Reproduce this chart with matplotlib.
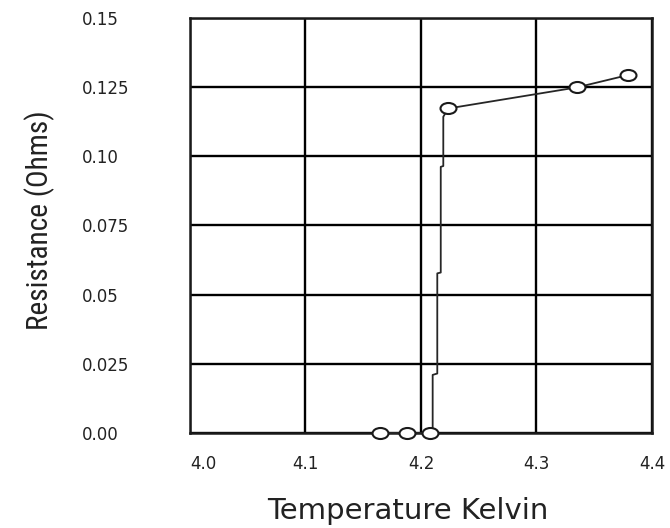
import matplotlib
matplotlib.use("Agg")
import matplotlib.pyplot as plt
from matplotlib.path import Path
from matplotlib.transforms import Affine2D
from matplotlib import font_manager

# ---- data ----
meas_temp = [4.1645, 4.1876, 4.2074, 4.2236, 4.3348, 4.3795]
meas_res = [0.0, 0.0, 0.0, 0.1173, 0.1249, 0.1294]

trans_temp = [4.1645, 4.1876, 4.2074, 4.2101, 4.2101, 4.2141, 4.2141, 4.2171,
              4.2171, 4.2193, 4.2193, 4.2236, 4.3348, 4.3795]
trans_res = [0.0, 0.0, 0.0, 0.0, 0.021, 0.0215, 0.0577, 0.058, 0.0962, 0.0965,
             0.1143, 0.1173, 0.1249, 0.1294]

x_ticks = [4.0, 4.1, 4.2, 4.3, 4.4]
x_tick_labels = ["4.0", "4.1", "4.2", "4.3", "4.4"]
y_ticks = [0.0, 0.025, 0.05, 0.075, 0.10, 0.125, 0.15]
y_tick_labels = ["0.00", "0.025", "0.05", "0.075", "0.10", "0.125", "0.15"]

# ---- figure ----
fig = plt.figure(figsize=(6.7, 5.28), dpi=100)
ax = fig.add_axes([190/670, 1 - 433/528, 462/670, 415/528])

ax.set_xlim(4.0, 4.4)
ax.set_ylim(0.0, 0.15)
ax.set_xticks(x_ticks)
ax.set_xticklabels(x_tick_labels)
ax.set_yticks(y_ticks)
ax.set_yticklabels(y_tick_labels)

ax.grid(True, color="#000000", linewidth=1.7, zorder=1)
ax.set_axisbelow(True)
for sp in ax.spines.values():
    sp.set_linewidth(1.8)
    sp.set_color("#1a1a1a")

ax.tick_params(axis="both", length=0, labelsize=12, labelcolor="#222222")
ax.tick_params(axis="x", pad=16)
ax.tick_params(axis="y", pad=78)
for lab in ax.get_yticklabels():
    lab.set_ha("left")
xl = ax.get_xticklabels()
xl[0].set_ha("left")

# line
ax.plot(trans_temp, trans_res, color="#262626", linewidth=1.3, zorder=3,
        clip_on=False)

# elliptical open markers
ell = Path.unit_circle().transformed(Affine2D().scale(1.45, 1.0))
ax.plot(meas_temp, meas_res, linestyle="none", marker=ell, markersize=11.5,
        markerfacecolor="white", markeredgecolor="#1a1a1a",
        markeredgewidth=1.5, zorder=4, clip_on=False)

# labels
names = {f.name for f in font_manager.fontManager.ttflist}
cands = ["Liberation Sans Narrow", "Roboto Condensed", "Open Sans Condensed",
         "Noto Sans Condensed", "DejaVu Sans"]
narrow = next(c for c in cands if c in names or c == "DejaVu Sans")
ylab = ax.set_ylabel("Resistance (Ohms)", family=narrow, fontstretch="condensed",
                     fontsize=22, color="#222222")
ax.yaxis.set_label_coords((40 - 190) / 462, (433 - 220) / 415)
ylab.set_va("center")

# fit the y label length to ~220 px
r = fig.canvas.get_renderer()
h = ylab.get_window_extent(r).height
ylab.set_fontsize(22 * 220 / h)

xlab = ax.set_xlabel("Temperature Kelvin", fontsize=21, color="#222222")
ax.xaxis.set_label_coords((408 - 190) / 462, (433 - 511) / 415)
xlab.set_va("center")

fig.savefig("out.png", dpi=100)
